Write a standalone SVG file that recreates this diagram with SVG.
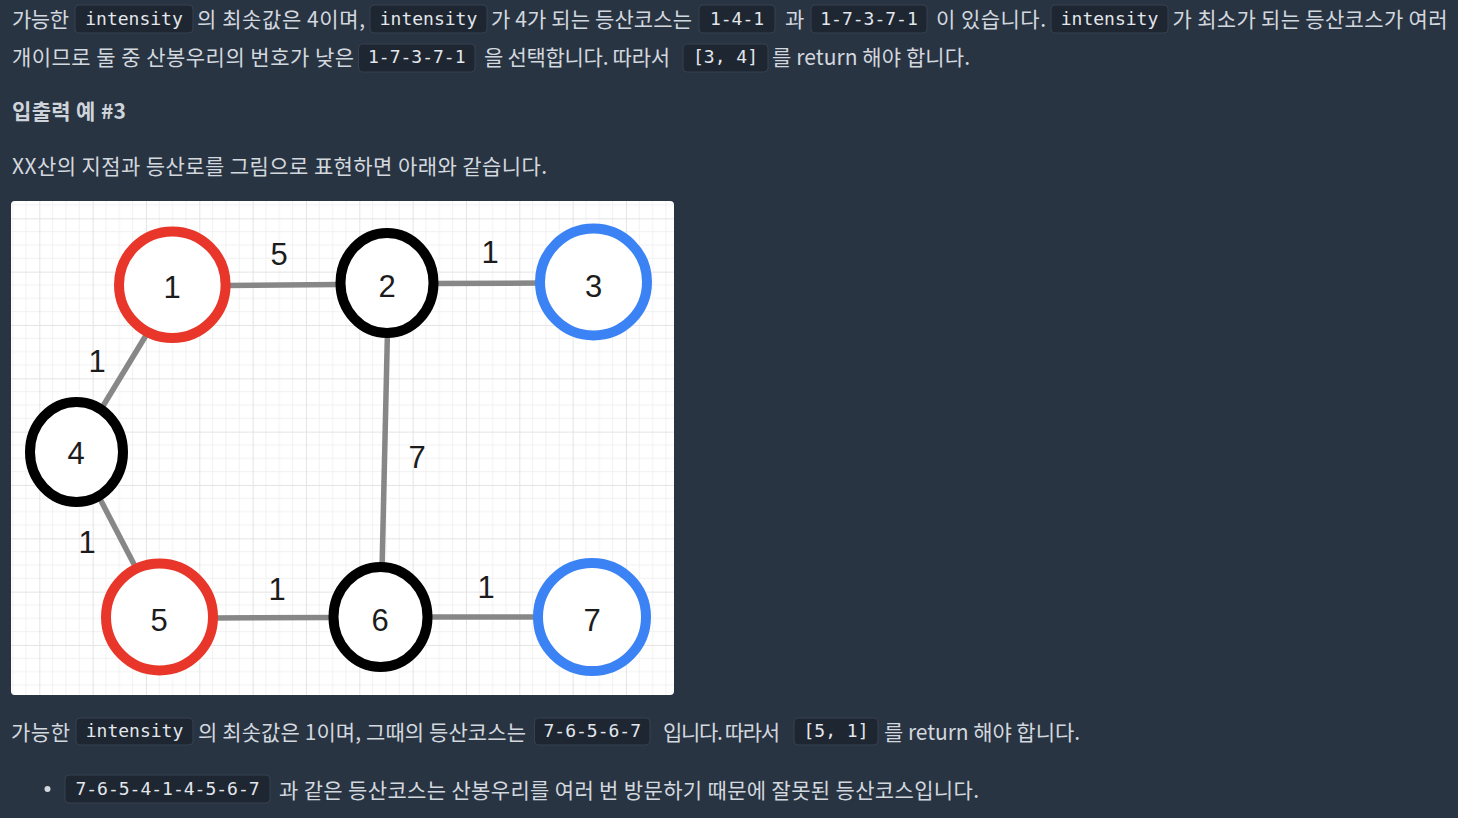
<svg xmlns="http://www.w3.org/2000/svg" width="1458" height="818" viewBox="0 0 1458 818">
<defs>
<style>
.t{font-family:"Noto Sans CJK KR","Noto Sans",sans-serif;font-size:21px;fill:#d3d8df}
.h{font-family:"Noto Sans CJK KR","Noto Sans",sans-serif;font-size:21px;font-weight:bold;fill:#cfd4db}
.cb{fill:#1e2632;stroke:#364150;stroke-width:1}
.c{font-family:"DejaVu Sans Mono","Liberation Mono",monospace;font-size:18px;fill:#e3e7ec;text-anchor:middle}
.edge{stroke:#878787;stroke-width:5.5;stroke-linecap:butt;fill:none}
.red{fill:#fff;stroke:#e8372a;stroke-width:10}
.blk{fill:#fff;stroke:#000;stroke-width:10}
.blu{fill:#fff;stroke:#3b83f4;stroke-width:10}
.nl{font-family:"Liberation Sans",Arial,sans-serif;font-size:31px;fill:#1c1c1c;text-anchor:middle}
.el{font-family:"Liberation Sans",Arial,sans-serif;font-size:31px;fill:#1c1c1c;text-anchor:middle}
</style>
<pattern id="grid" patternUnits="userSpaceOnUse" x="39.3" y="218.3" width="53.333" height="53.333">
<path d="M13.333 0V53.333M26.667 0V53.333M40 0V53.333M0 13.333H53.333M0 26.667H53.333M0 40H53.333" stroke="#f1f1f1" stroke-width="1" fill="none"/>
<path d="M0 0V53.333M0 0H53.333" stroke="#e4e4e4" stroke-width="2" fill="none"/>
</pattern>
</defs>
<rect width="1458" height="818" fill="#293443"/>

<!-- line 1 -->
<text class="t" x="12" y="26.5" textLength="57">가능한</text>
<rect class="cb" x="75" y="5" width="118" height="28" rx="4"/><text class="c" x="134" y="25">intensity</text>
<text class="t" x="197" y="26.5" textLength="168">의 최솟값은 4이며,</text>
<rect class="cb" x="370" y="5" width="117" height="28" rx="4"/><text class="c" x="428.5" y="25">intensity</text>
<text class="t" x="491" y="26.5" textLength="201">가 4가 되는 등산코스는</text>
<rect class="cb" x="699" y="5" width="76" height="28" rx="4"/><text class="c" x="737" y="25">1-4-1</text>
<text class="t" x="785" y="26.5" textLength="19">과</text>
<rect class="cb" x="811" y="5" width="116" height="28" rx="4"/><text class="c" x="869" y="25">1-7-3-7-1</text>
<text class="t" x="936" y="26.5" textLength="110">이 있습니다.</text>
<rect class="cb" x="1051" y="5" width="117" height="28" rx="4"/><text class="c" x="1109.5" y="25">intensity</text>
<text class="t" x="1172.5" y="26.5" textLength="275">가 최소가 되는 등산코스가 여러</text>

<!-- line 2 -->
<text class="t" x="12" y="64.5" textLength="342">개이므로 둘 중 산봉우리의 번호가 낮은</text>
<rect class="cb" x="358.5" y="44" width="116.5" height="28" rx="4"/><text class="c" x="416.75" y="63">1-7-3-7-1</text>
<text class="t" x="484" y="64.5" textLength="186">을 선택합니다. 따라서</text>
<rect class="cb" x="683" y="44" width="85" height="28" rx="4"/><text class="c" x="725.5" y="63">[3, 4]</text>
<text class="t" x="772" y="64.5" textLength="198">를 return 해야 합니다.</text>

<text class="h" x="12" y="118.5" textLength="114">입출력 예 #3</text>
<text class="t" x="12" y="173.5" textLength="535">XX산의 지점과 등산로를 그림으로 표현하면 아래와 같습니다.</text>

<!-- figure -->
<rect x="11" y="201" width="663" height="494" rx="4" fill="#fff"/>
<rect x="11" y="201" width="663" height="494" rx="4" fill="url(#grid)"/>

<g id="connectors">
<line class="edge" x1="225" y1="285.5" x2="340" y2="284.5"/>
<line class="edge" x1="430" y1="283.5" x2="545" y2="283"/>
<line class="edge" x1="387.5" y1="330" x2="382" y2="570"/>
<line class="edge" x1="148" y1="332" x2="100" y2="411"/>
<line class="edge" x1="98" y1="495" x2="137" y2="570"/>
<line class="edge" x1="210" y1="618" x2="335" y2="617.5"/>
<line class="edge" x1="425" y1="617" x2="545" y2="617"/>
<text class="el" x="279" y="265">5</text>
<text class="el" x="490" y="263">1</text>
<text class="el" x="97" y="372">1</text>
<text class="el" x="417" y="468">7</text>
<text class="el" x="87" y="553">1</text>
<text class="el" x="277" y="600">1</text>
<text class="el" x="486" y="598">1</text>
</g>

<g id="node1"><circle class="red" cx="172.3" cy="284.7" r="53.3"/><text class="nl" x="172" y="298">1</text></g>
<g id="node2"><ellipse class="blk" cx="387" cy="283" rx="46.5" ry="50"/><text class="nl" x="387" y="297">2</text></g>
<g id="node3"><circle class="blu" cx="593.5" cy="282" r="53.5"/><text class="nl" x="593.5" y="297">3</text></g>
<g id="node4"><ellipse class="blk" cx="76.5" cy="452" rx="46.5" ry="50"/><text class="nl" x="76" y="464">4</text></g>
<g id="node5"><circle class="red" cx="159.5" cy="617" r="53.5"/><text class="nl" x="159" y="631">5</text></g>
<g id="node6"><ellipse class="blk" cx="380.5" cy="617" rx="47" ry="50"/><text class="nl" x="380" y="631">6</text></g>
<g id="node7"><circle class="blu" cx="592" cy="617" r="54"/><text class="nl" x="592" y="631">7</text></g>

<!-- bottom line A -->
<text class="t" x="11" y="739.5" textLength="59">가능한</text>
<rect class="cb" x="76" y="718" width="117" height="27" rx="4"/><text class="c" x="134.5" y="737">intensity</text>
<text class="t" x="198" y="739.5" textLength="328">의 최솟값은 1이며, 그때의 등산코스는</text>
<rect class="cb" x="534.5" y="718" width="115.5" height="27" rx="4"/><text class="c" x="592.25" y="737">7-6-5-6-7</text>
<text class="t" x="663" y="739.5" textLength="117">입니다. 따라서</text>
<rect class="cb" x="794" y="718" width="84" height="27" rx="4"/><text class="c" x="836" y="737">[5, 1]</text>
<text class="t" x="884" y="739.5" textLength="196">를 return 해야 합니다.</text>

<!-- bottom line B -->
<circle cx="47.5" cy="789" r="3" fill="#d3d8df"/>
<rect class="cb" x="65" y="775" width="205" height="28" rx="4"/><text class="c" x="167.5" y="795">7-6-5-4-1-4-5-6-7</text>
<text class="t" x="279" y="797.5" textLength="700">과 같은 등산코스는 산봉우리를 여러 번 방문하기 때문에 잘못된 등산코스입니다.</text>
</svg>
